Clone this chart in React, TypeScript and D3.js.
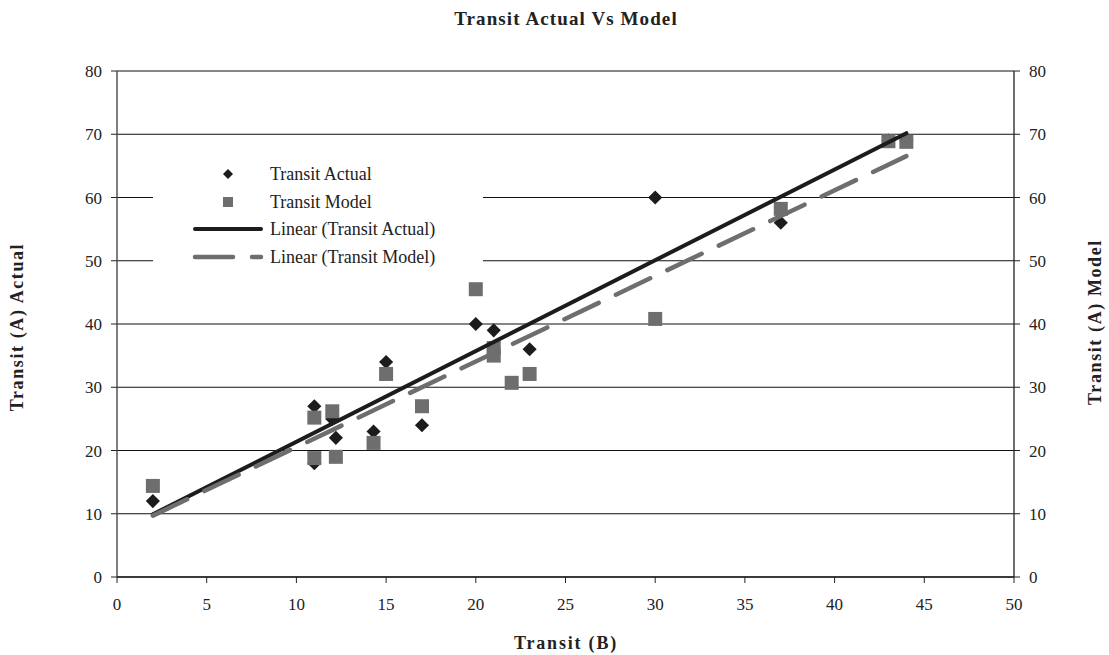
import * as d3 from "d3";

const width = 1109;
const height = 655;
const marginLeft = 117;
const marginRight = 95;
const marginTop = 71;
const marginBottom = 78;

// Transit (B) vs Transit (A)
const actualX = [2, 11, 11, 12, 12.2, 14.3, 15, 17, 20, 21, 23, 30, 37, 43, 44];
const actualY = [12, 27, 18, 25, 22, 23, 34, 24, 40, 39, 36, 60, 56, 69, 69];
const modelX = [2, 11, 11, 12, 12.2, 14.3, 15, 17, 20, 21, 21, 22, 23, 30, 37, 43, 44];
const modelY = [14.4, 25.2, 18.8, 26.2, 19.0, 21.2, 32.1, 27.0, 45.5, 36.2, 35.0, 30.7, 32.1, 40.8, 58.2, 68.9, 68.8];

const xTicks = [0, 5, 10, 15, 20, 25, 30, 35, 40, 45, 50];
const yTicks = [0, 10, 20, 30, 40, 50, 60, 70, 80];
const legendLabels = ["Transit Actual", "Transit Model", "Linear (Transit Actual)", "Linear (Transit Model)"];

const font = "'Liberation Serif', 'Times New Roman', serif";
const actualColor = "#1c1c1c";
const modelColor = "#6e6e6e";

// least squares, like Excel's linear trendline
function fit(xs: number[], ys: number[]) {
  const mx = d3.mean(xs) as number;
  const my = d3.mean(ys) as number;
  const sxy = d3.sum(xs, (x, i) => (x - mx) * (ys[i] - my));
  const sxx = d3.sum(xs, (x) => (x - mx) * (x - mx));
  const slope = sxy / sxx;
  return { slope, intercept: my - slope * mx };
}

const App = () => {
  const xScale = d3.scaleLinear().domain([0, 50]).range([marginLeft, width - marginRight]);
  const yScale = d3.scaleLinear().domain([0, 80]).range([height - marginBottom, marginTop]);
  const x0 = xScale(0);
  const x1 = xScale(50);
  const yBottom = yScale(0);

  const trend = (xs: number[], ys: number[]) => {
    const { slope, intercept } = fit(xs, ys);
    const ext = d3.extent(xs) as [number, number];
    return d3
      .line<number>()
      .x((x) => xScale(x))
      .y((x) => yScale(intercept + slope * x))(ext) as string;
  };

  const diamond = d3.symbol(d3.symbolSquare, 100)() as string;
  const square = d3.symbol(d3.symbolSquare, 196)() as string;
  const diamondSmall = d3.symbol(d3.symbolSquare, 50)() as string;
  const squareSmall = d3.symbol(d3.symbolSquare, 100)() as string;

  const legendX = 153;
  const legendRows = [174, 202, 229, 257];

  return (
    <div style={{ position: "absolute", left: 0, top: 0 }}>
      <svg width={width} height={height} viewBox={`0 0 ${width} ${height}`} style={{ display: "block", background: "#fff" }}>
        <text x={566} y={25} textAnchor="middle" fontFamily={font} fontWeight="bold" fontSize={19} letterSpacing={1.1} fill="#222">
          Transit Actual Vs Model
        </text>

        {/* gridlines */}
        {yTicks.map((t) => (
          <line key={`g${t}`} x1={x0} x2={x1} y1={yScale(t)} y2={yScale(t)} stroke="#111" strokeWidth={1.2} />
        ))}

        {/* legend box hides gridlines */}
        <rect x={legendX} y={142} width={330} height={130} fill="#fff" />

        {/* axes */}
        <line x1={x0} x2={x0} y1={marginTop} y2={yBottom} stroke="#555" strokeWidth={1.5} />
        <line x1={x1} x2={x1} y1={marginTop} y2={yBottom} stroke="#222" strokeWidth={1.3} />
        <line x1={x0} x2={x1} y1={yBottom} y2={yBottom} stroke="#222" strokeWidth={1.5} />
        {yTicks.map((t) => (
          <g key={`y${t}`} fontFamily={font} fontSize={17} fill="#222">
            <line x1={x0 - 6} x2={x0} y1={yScale(t)} y2={yScale(t)} stroke="#222" />
            <line x1={x1} x2={x1 + 6} y1={yScale(t)} y2={yScale(t)} stroke="#222" />
            <text x={x0 - 15} y={yScale(t) + 6} textAnchor="end">{t}</text>
            <text x={x1 + 15} y={yScale(t) + 6}>{t}</text>
          </g>
        ))}
        {xTicks.map((t) => (
          <g key={`x${t}`} fontFamily={font} fontSize={17} fill="#222">
            <line x1={xScale(t)} x2={xScale(t)} y1={yBottom} y2={yBottom + 6} stroke="#222" />
            <text x={xScale(t)} y={yBottom + 33} textAnchor="middle">{t}</text>
          </g>
        ))}

        {/* markers */}
        {actualX.map((x, i) => (
          <path key={`a${i}`} d={diamond} transform={`translate(${xScale(x)},${yScale(actualY[i])}) rotate(45)`} fill={actualColor} />
        ))}
        {modelX.map((x, i) => (
          <path key={`m${i}`} d={square} transform={`translate(${xScale(x)},${yScale(modelY[i])})`} fill={modelColor} />
        ))}

        {/* trendlines */}
        <path d={trend(actualX, actualY)} fill="none" stroke={actualColor} strokeWidth={4} strokeLinecap="round" />
        <path d={trend(modelX, modelY)} fill="none" stroke={modelColor} strokeWidth={4.5} strokeLinecap="round" strokeDasharray="38 19" />

        {/* legend */}
        <g fontFamily={font} fontSize={18} fill="#222">
          <path d={diamondSmall} transform={`translate(228,${legendRows[0]}) rotate(45)`} fill={actualColor} />
          <path d={squareSmall} transform={`translate(228,${legendRows[1]})`} fill={modelColor} />
          <line x1={195} x2={261} y1={legendRows[2]} y2={legendRows[2]} stroke={actualColor} strokeWidth={4} strokeLinecap="round" />
          <line x1={195} x2={261} y1={legendRows[3]} y2={legendRows[3]} stroke={modelColor} strokeWidth={4.5} strokeLinecap="round" strokeDasharray="38 19" />
          {legendLabels.map((l, i) => (
            <text key={l} x={270} y={legendRows[i] + 6}>{l}</text>
          ))}
        </g>

        {/* axis titles */}
        <text x={566} y={649} textAnchor="middle" fontFamily={font} fontWeight="bold" fontSize={18} letterSpacing={1.8} fill="#222">
          Transit (B)
        </text>
        <text transform="translate(23,327) rotate(-90)" textAnchor="middle" fontFamily={font} fontWeight="bold" fontSize={18} letterSpacing={1.6} fill="#222">
          Transit (A) Actual
        </text>
        <text transform="translate(1101,322) rotate(-90)" textAnchor="middle" fontFamily={font} fontWeight="bold" fontSize={18} letterSpacing={1.6} fill="#222">
          Transit (A) Model
        </text>
      </svg>
    </div>
  );
};

export default App;
